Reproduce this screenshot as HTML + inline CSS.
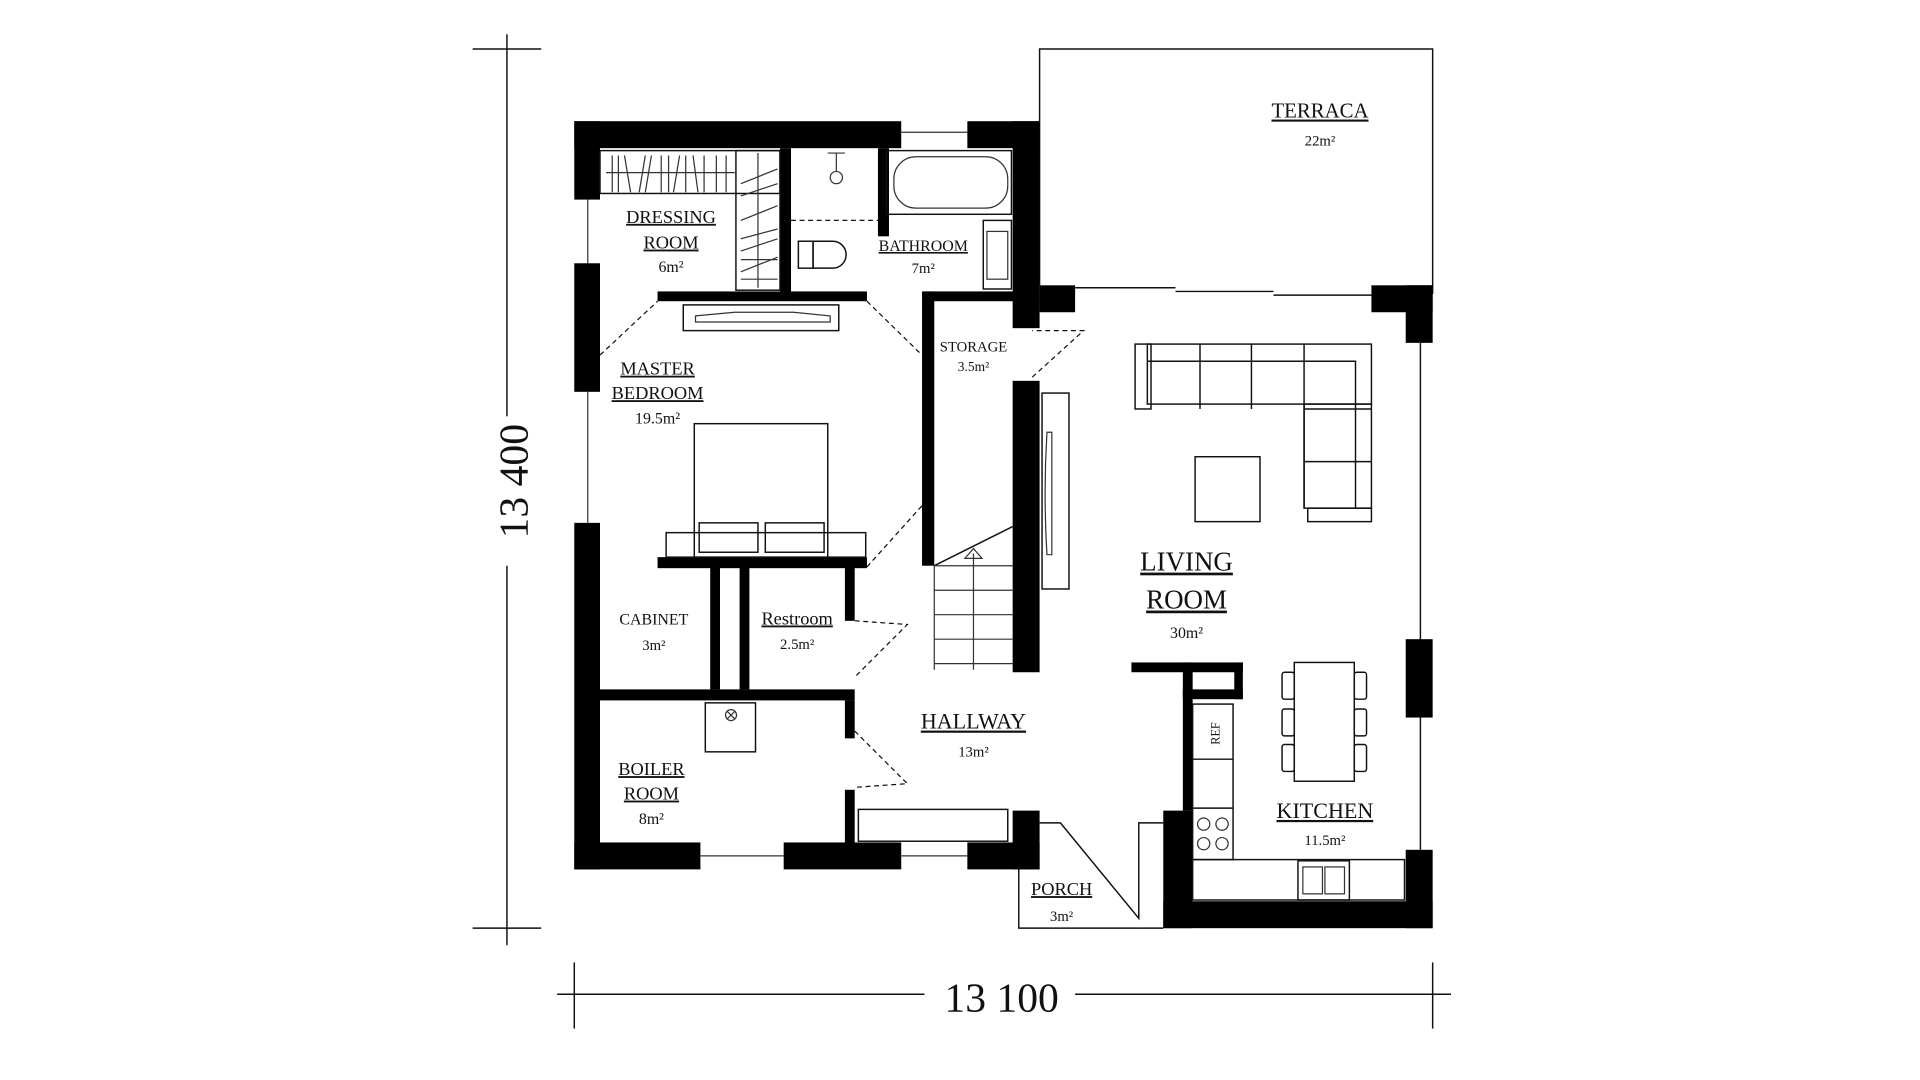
<!DOCTYPE html>
<html><head><meta charset="utf-8"><style>
html,body{margin:0;padding:0;background:#fff;width:1920px;height:1080px;overflow:hidden}
svg{display:block}
text{font-family:"Liberation Serif",serif;fill:#111}
.l{fill:none;stroke:#111;stroke-width:1.2}
.t{fill:none;stroke:#333;stroke-width:1}
.d{fill:none;stroke:#111;stroke-width:1;stroke-dasharray:4 3}
.u{text-decoration:underline}
</style></head><body>
<svg width="1920" height="1080" viewBox="0 0 1568 882" xmlns="http://www.w3.org/2000/svg">
<!-- dimension lines -->
<g stroke="#111" stroke-width="1.2">
<line x1="414" y1="28" x2="414" y2="772"/>
<line x1="386" y1="40" x2="442" y2="40"/>
<line x1="386" y1="758" x2="442" y2="758"/>
<line x1="455" y1="812" x2="755" y2="812"/>
<line x1="878" y1="812" x2="1185" y2="812"/>
<line x1="469" y1="786" x2="469" y2="840"/>
<line x1="1170" y1="786" x2="1170" y2="840"/>
</g>
<rect x="400" y="340" width="35" height="122" fill="#fff"/>
<text x="420" y="393" font-size="34" text-anchor="middle" dominant-baseline="central" transform="rotate(-90 420 393)">13 400</text>
<text x="818" y="826" font-size="34" text-anchor="middle">13 100</text>

<!-- terrace -->
<polyline class="l" points="849,233 849,40 1170,40 1170,240"/>
<line class="l" x1="878" y1="235" x2="960" y2="235"/>
<line class="l" x1="960" y1="238" x2="1040" y2="238"/>
<line class="l" x1="1040" y1="241" x2="1120" y2="241"/>
<line class="l" x1="1160" y1="280" x2="1160" y2="694"/>
<!-- windows thin lines -->
<line class="t" x1="480" y1="163" x2="480" y2="215"/>
<line class="t" x1="480" y1="320" x2="480" y2="427"/>
<line class="t" x1="736" y1="108" x2="790" y2="108"/>
<line class="t" x1="572" y1="699" x2="640" y2="699"/>
<line class="t" x1="736" y1="699" x2="790" y2="699"/>

<!-- walls -->
<g fill="#000">
<rect x="469" y="99" width="267" height="22"/>
<rect x="469" y="99" width="21" height="64"/>
<rect x="469" y="215" width="21" height="105"/>
<rect x="469" y="427" width="21" height="283"/>
<rect x="790" y="99" width="59" height="22"/>
<rect x="827" y="99" width="22" height="169"/>
<rect x="849" y="233" width="29" height="22"/>
<rect x="637" y="121" width="9" height="120"/>
<rect x="717" y="121" width="9" height="72"/>
<rect x="537" y="238" width="171" height="8"/>
<rect x="755" y="238" width="94" height="8"/>
<rect x="753" y="238" width="10" height="224"/>
<rect x="537" y="455" width="171" height="9"/>
<rect x="580" y="463" width="8" height="100"/>
<rect x="604" y="463" width="8" height="100"/>
<rect x="690" y="463" width="8" height="44"/>
<rect x="490" y="563" width="208" height="9"/>
<rect x="690" y="572" width="8" height="31"/>
<rect x="690" y="645" width="8" height="45"/>
<rect x="469" y="688" width="103" height="22"/>
<rect x="640" y="688" width="96" height="22"/>
<rect x="790" y="688" width="59" height="22"/>
<rect x="827" y="662" width="22" height="48"/>
<rect x="827" y="311" width="22" height="238"/>
<rect x="924" y="541" width="91" height="8"/>
<rect x="1008" y="541" width="7" height="30"/>
<rect x="966" y="541" width="8" height="121"/>
<rect x="966" y="563" width="49" height="8"/>
<rect x="950" y="662" width="24" height="96"/>
<rect x="950" y="736" width="220" height="22"/>
<rect x="1148" y="694" width="22" height="64"/>
<rect x="1148" y="522" width="22" height="64"/>
<rect x="1120" y="233" width="50" height="22"/>
<rect x="1148" y="233" width="22" height="47"/>
</g>

<!-- doors -->
<polyline class="d" points="490,290 537,246"/>
<polyline class="d" points="708,246 753,290"/>
<polyline class="d" points="843,308 885,270 843,270"/>
<polyline class="d" points="708,463 753,413"/>
<polyline class="d" points="698,507 741,510 698,553"/>
<polyline class="d" points="698,597 741,640 698,643"/>
<polyline class="l" points="849,672 866,672 930,750 930,672 950,672"/>
<polyline class="l" points="832,710 832,758 950,758"/>

<!-- dressing room furniture -->
<rect class="l" x="490" y="123" width="147" height="35"/>
<rect class="l" x="601" y="123" width="36" height="114"/>
<line class="t" x1="495" y1="141" x2="600" y2="141"/>
<line class="t" x1="619" y1="125" x2="619" y2="235"/>
<g class="t"><path d="M500,127v30M505,127v30M510,127l5,30M527,127l-5,30M532,127l-5,30M540,127v30M546,127v30M555,127l-5,30M560,127v30M566,127l4,30M575,127v30M585,127v30M593,127v30M605,150l30,-12M605,160l30,-10M605,180l30,-12M605,195l30,-8M605,205l30,-10M605,222l30,-12M605,228h30M605,212h30"/></g>
<!-- bathroom -->
<line class="t" x1="676" y1="125" x2="690" y2="125"/>
<line class="t" x1="683" y1="125" x2="683" y2="140"/>
<circle class="t" cx="683" cy="145" r="5"/>
<line class="d" x1="646" y1="180" x2="718" y2="180"/>
<rect class="l" x="652" y="197" width="12" height="22"/>
<path class="l" d="M664,197h16a11,11 0 0 1 0,22h-16z"/>
<rect class="l" x="724" y="123" width="102" height="52"/>
<rect class="t" x="730" y="128" width="93" height="42" rx="18"/>
<rect class="l" x="803" y="180" width="23" height="56"/>
<rect class="t" x="806" y="189" width="17" height="39"/>
<!-- bedroom -->
<rect class="l" x="558" y="249" width="127" height="21"/>
<path class="t" d="M568,258 L600,255 L648,255 L678,258 L678,263 L568,263 Z"/>
<rect class="l" x="567" y="346" width="109" height="109"/>
<rect class="l" x="544" y="435" width="163" height="20"/>
<rect class="l" x="571" y="427" width="48" height="24"/>
<rect class="l" x="625" y="427" width="48" height="24"/>
<!-- boiler -->
<rect class="l" x="576" y="574" width="41" height="40"/>
<circle class="t" cx="597" cy="584" r="4.5"/>
<path class="t" d="M594,581l6,6M600,581l-6,6"/>
<!-- hallway cabinet -->
<rect class="l" x="701" y="661" width="122" height="26"/>
<!-- stairs -->
<polyline class="l" points="763,462 827,430"/>
<g class="t">
<line x1="763" y1="462" x2="827" y2="462"/>
<line x1="763" y1="482" x2="827" y2="482"/>
<line x1="763" y1="502" x2="827" y2="502"/>
<line x1="763" y1="522" x2="827" y2="522"/>
<line x1="763" y1="542" x2="827" y2="542"/>
<line x1="763" y1="462" x2="763" y2="547"/>
<line x1="795" y1="452" x2="795" y2="547"/>
</g>
<path class="t" d="M788,456 L795,448 L802,456 Z"/>
<!-- fireplace/tv -->
<rect class="l" x="851" y="321" width="22" height="160"/>
<path class="t" d="M855,353 h4 v100 h-4 q-3,-50 0,-100z"/>
<!-- sofa -->
<g class="l">
<rect x="927" y="281" width="13" height="53"/>
<rect x="937" y="281" width="183" height="49"/>
<path d="M937,295 H1107 V415"/>
<line x1="980" y1="281" x2="980" y2="334"/>
<line x1="1022" y1="281" x2="1022" y2="334"/>
<line x1="1065" y1="281" x2="1065" y2="415"/>
<line x1="1065" y1="334" x2="1120" y2="334"/>
<line x1="1065" y1="377" x2="1120" y2="377"/>
<rect x="1065" y="330" width="55" height="85"/>
<rect x="1068" y="415" width="52" height="11"/>
<rect x="976" y="373" width="53" height="53"/>
</g>
<!-- kitchen -->
<g class="l">
<rect x="974" y="575" width="33" height="127"/>
<line x1="974" y1="620" x2="1007" y2="620"/>
<line x1="974" y1="660" x2="1007" y2="660"/>
<rect x="974" y="702" width="173" height="33"/>
<rect x="1060" y="703" width="42" height="32"/>
<rect x="1057" y="541" width="49" height="97"/>
<rect x="1047" y="549" width="10" height="22" rx="2"/>
<rect x="1047" y="579" width="10" height="22" rx="2"/>
<rect x="1047" y="608" width="10" height="22" rx="2"/>
<rect x="1106" y="549" width="10" height="22" rx="2"/>
<rect x="1106" y="579" width="10" height="22" rx="2"/>
<rect x="1106" y="608" width="10" height="22" rx="2"/>
</g>
<g class="t"><circle cx="983" cy="673" r="5"/><circle cx="998" cy="673" r="5"/><circle cx="983" cy="689" r="5"/><circle cx="998" cy="689" r="5"/>
<rect x="1064" y="708" width="16" height="22"/><rect x="1082" y="708" width="16" height="22"/></g>
<text x="996" y="599" font-size="10" text-anchor="middle" transform="rotate(-90 996 599)">REF</text>

<!-- labels -->
<g text-anchor="middle">
<text x="1078" y="96" font-size="17" class="u">TERRACA</text>
<text x="1078" y="119" font-size="12">22m²</text>
<text x="548" y="182" font-size="15" class="u">DRESSING</text>
<text x="548" y="203" font-size="15" class="u">ROOM</text>
<text x="548" y="222" font-size="13">6m²</text>
<text x="754" y="205" font-size="13" class="u">BATHROOM</text>
<text x="754" y="223" font-size="12">7m²</text>
<text x="795" y="287" font-size="12">STORAGE</text>
<text x="795" y="303" font-size="11">3.5m²</text>
<text x="537" y="306" font-size="15" class="u">MASTER</text>
<text x="537" y="326" font-size="15" class="u">BEDROOM</text>
<text x="537" y="346" font-size="13">19.5m²</text>
<text x="534" y="510" font-size="13">CABINET</text>
<text x="534" y="531" font-size="12">3m²</text>
<text x="651" y="510" font-size="15" class="u">Restroom</text>
<text x="651" y="530" font-size="12">2.5m²</text>
<text x="532" y="633" font-size="15" class="u">BOILER</text>
<text x="532" y="653" font-size="15" class="u">ROOM</text>
<text x="532" y="673" font-size="13">8m²</text>
<text x="795" y="595" font-size="18" class="u">HALLWAY</text>
<text x="795" y="618" font-size="12">13m²</text>
<text x="969" y="466" font-size="22" class="u">LIVING</text>
<text x="969" y="497" font-size="22" class="u">ROOM</text>
<text x="969" y="521" font-size="13">30m²</text>
<text x="1082" y="668" font-size="18" class="u">KITCHEN</text>
<text x="1082" y="690" font-size="12">11.5m²</text>
<text x="867" y="731" font-size="15" class="u">PORCH</text>
<text x="867" y="752" font-size="12">3m²</text>
</g>
</svg>
</body></html>
